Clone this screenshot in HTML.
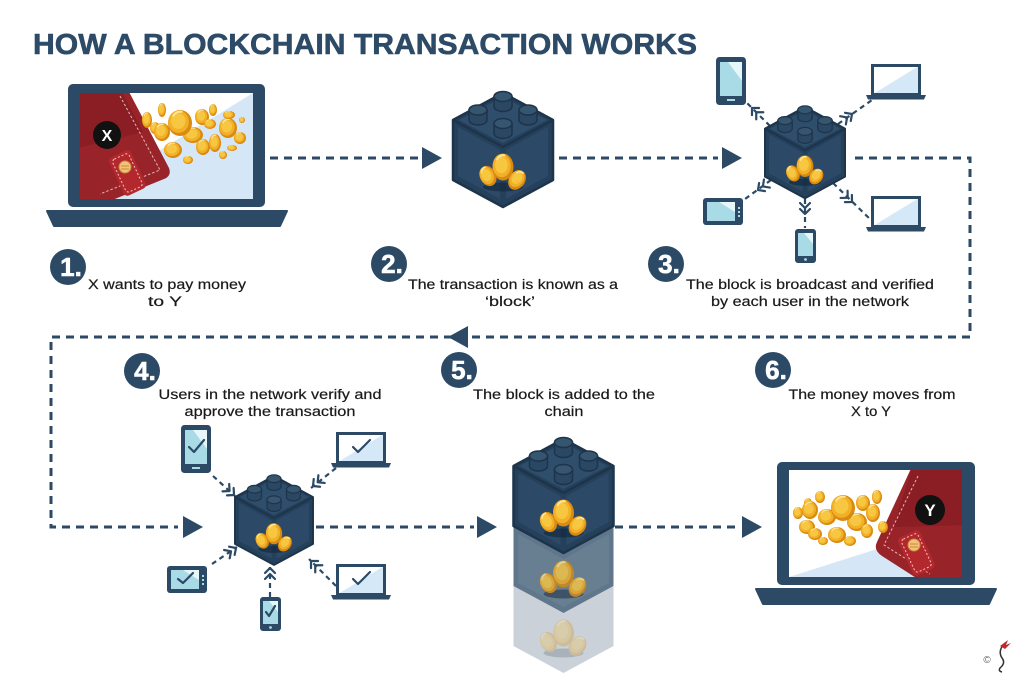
<!DOCTYPE html>
<html><head><meta charset="utf-8"><style>
html,body{margin:0;padding:0;background:#fff;}
svg{display:block;}
text{font-family:"Liberation Sans",sans-serif;}
</style></head><body>
<svg width="1024" height="683" viewBox="0 0 1024 683" xmlns="http://www.w3.org/2000/svg">
<defs>
  <g id="stud">
    <path d="M-9,-10 L-9,0 A9,5 0 0 0 9,0 L9,-10 Z" fill="#2a4763" stroke="#1d344b" stroke-width="1.5"/>
    <ellipse cx="0" cy="-10" rx="9" ry="5" fill="#36566f" stroke="#1d344b" stroke-width="1.5"/>
  </g>
  <g id="block">
    <path d="M0,0 L50,27 L50,87 L0,114 L-50,87 L-50,27 Z" fill="#24405b" stroke="#1d344b" stroke-width="2.5" stroke-linejoin="round"/>
    <path d="M-45,34 L-3,57 L-3,106 L-45,83 Z" fill="#2c4a67"/>
    <path d="M45,34 L3,57 L3,106 L45,83 Z" fill="#2c4a67"/>
    <path d="M0,4 L44,27 L0,50 L-44,27 Z" fill="#2f4e6b"/>
    <path d="M-50,27 L0,54 L50,27" fill="none" stroke="#1d344b" stroke-width="2.5"/>
    <use href="#stud" x="0" y="13.5"/>
    <use href="#stud" x="-25" y="27"/>
    <use href="#stud" x="25" y="27"/>
    <use href="#stud" x="0" y="40.5"/>
  </g>
  <g id="coin">
    <circle r="10" fill="#d98a10"/>
    <circle cx="-1.2" cy="-1" r="8.6" fill="#f2b027"/>
    <circle cx="-1.5" cy="-1.5" r="6" fill="#f8c742"/>
    <path d="M-6,-5 A7,7 0 0 1 2,-8.5" stroke="#fde59a" stroke-width="1.6" fill="none"/>
  </g>
  <g id="coins">
    <ellipse cx="0" cy="20" rx="20" ry="4.5" fill="#12243a" opacity="0.6"/>
    <use href="#coin" transform="translate(-15,9) rotate(-25) scale(0.8,1.05)"/>
    <use href="#coin" transform="translate(14,13) rotate(35) scale(0.8,1.05)"/>
    <use href="#coin" transform="translate(0,0) scale(1.05,1.35)"/>
  </g>
  <g id="chev" fill="none" stroke="#2c4a66" stroke-width="2.2" stroke-linecap="round" stroke-linejoin="round">
    <path d="M-5,-5 L0,0 L-5,5 M-11,-5 L-6,0 L-11,5"/>
  </g>
  <g id="tabP">
    <rect x="0" y="0" width="30" height="48" rx="3.5" fill="#2c4a66"/>
    <rect x="4" y="5" width="22" height="34" fill="#a8dbe6"/>
    <path d="M26,5 L26,24 L12,5 Z" fill="#e6f6f9"/>
    <rect x="11" y="42" width="8" height="2" fill="#a8dbe6"/>
  </g>
  <g id="lap">
    <rect x="6.5" y="1.5" width="47" height="29" fill="#d5e8f7"/>
    <path d="M7,30 L53,2 L7,2 Z" fill="#ffffff"/>
    <rect x="6.5" y="1.5" width="47" height="29" fill="none" stroke="#2c4a66" stroke-width="3"/>
    <path d="M0,31 L60,31 L58,35.5 L2,35.5 Z" fill="#2c4a66"/>
  </g>
  <g id="tabL">
    <rect x="0" y="0" width="40" height="27" rx="3" fill="#2c4a66"/>
    <rect x="4" y="4" width="28" height="19" fill="#a8dbe6"/>
    <path d="M32,4 L32,14 L16,4 Z" fill="#e6f6f9"/>
    <rect x="35" y="9" width="2" height="2" fill="#a8dbe6"/>
    <rect x="35" y="13" width="2" height="2" fill="#a8dbe6"/>
    <rect x="35" y="17" width="2" height="2" fill="#a8dbe6"/>
  </g>
  <g id="phone">
    <rect x="0" y="0" width="21" height="34" rx="3" fill="#2c4a66"/>
    <rect x="3" y="4" width="15" height="23" fill="#a8dbe6"/>
    <path d="M18,4 L18,15 L9,4 Z" fill="#e6f6f9"/>
    <circle cx="10.5" cy="30.5" r="1.4" fill="#a8dbe6"/>
  </g>
  <clipPath id="scr1"><rect x="80" y="93" width="173" height="106"/></clipPath>
  <clipPath id="scr6"><rect x="789" y="470" width="173" height="107"/></clipPath>
</defs>

<!-- Title -->
<text x="33" y="54" font-size="29" font-weight="bold" fill="#2d4b67" stroke="#2d4b67" stroke-width="0.6" textLength="664" lengthAdjust="spacingAndGlyphs">HOW A BLOCKCHAIN TRANSACTION WORKS</text>

<!-- ===== Main dashed connectors ===== -->
<g fill="none" stroke="#2c4a66" stroke-width="3" stroke-dasharray="8 6">
  <path d="M270,158 L418,158"/>
  <path d="M559,158 L718,158"/>
  <path d="M855,158 L970,158 L970,337 L51,337 L51,527 L178,527"/>
  <path d="M316,527 L474,527"/>
  <path d="M615,527 L738,527"/>
</g>
<g fill="#2c4a66">
  <path d="M422,147 L442,158 L422,169 Z"/>
  <path d="M722,147 L742,158 L722,169 Z"/>
  <path d="M448,337 L468,326 L468,348 Z"/>
  <path d="M183,516 L203,527 L183,538 Z"/>
  <path d="M477,516 L497,527 L477,538 Z"/>
  <path d="M742,516 L762,527 L742,538 Z"/>
</g>

<!-- ===== Laptop 1 ===== -->
<rect x="68" y="84" width="197" height="123" rx="5" fill="#2c4a66"/>
<rect x="80" y="93" width="173" height="106" fill="#ffffff"/>
<path d="M80,199 L253,93 L253,199 Z" fill="#d5e7f6"/>
<g clip-path="url(#scr1)">
  <path d="M70,85 L127,88 L169,168 Q172,176 164,179 L100,205 L70,205 Z" fill="#98242a"/>
  <path d="M70,88 L122,92 L143,132 L70,150 Z" fill="#8a1e24"/>
  <path d="M120,96 L160,170 L100,194" fill="none" stroke="#e9b3b3" stroke-width="1" stroke-dasharray="2.5 2"/>
  <g transform="translate(127,172) rotate(-25)">
    <rect x="-12" y="-20" width="24" height="42" rx="4" fill="#b3282d"/>
    <rect x="-9" y="-17" width="18" height="36" rx="3" fill="none" stroke="#f0c3c3" stroke-width="1" stroke-dasharray="2 2"/>
  </g>
  <circle cx="125" cy="167" r="6" fill="#f2c27b" stroke="#c98b3b" stroke-width="1"/>
  <path d="M121,166 L129,166 M121,169 L129,169" stroke="#c98b3b" stroke-width="1"/>
  <circle cx="107" cy="135" r="14" fill="#111"/>
  <text x="107" y="141" font-size="16" font-weight="bold" fill="#fff" text-anchor="middle">X</text>
  <use href="#coin" transform="translate(147,120) scale(0.5,0.8)"/>
  <use href="#coin" transform="translate(155,128) scale(0.5,0.6)"/>
  <use href="#coin" transform="translate(162,110) scale(0.4,0.7)"/>
  <use href="#coin" transform="translate(162,132) scale(0.8,0.9)"/>
  <use href="#coin" transform="translate(173,150) scale(0.9,0.8)"/>
  <use href="#coin" transform="translate(188,160) scale(0.5,0.4)"/>
  <use href="#coin" transform="translate(202,117) scale(0.7,0.8)"/>
  <use href="#coin" transform="translate(213,110) scale(0.4,0.6)"/>
  <use href="#coin" transform="translate(210,124) scale(0.6,0.5)"/>
  <use href="#coin" transform="translate(193,135) scale(1.0,0.8)"/>
  <use href="#coin" transform="translate(203,147) scale(0.7,0.8)"/>
  <use href="#coin" transform="translate(215,143) scale(0.6,0.9)"/>
  <use href="#coin" transform="translate(228,128) scale(0.9,1.0)"/>
  <use href="#coin" transform="translate(229,115) scale(0.6,0.4)"/>
  <use href="#coin" transform="translate(240,138) scale(0.6,0.6)"/>
  <use href="#coin" transform="translate(232,148) scale(0.5,0.3)"/>
  <use href="#coin" transform="translate(242,120) scale(0.3,0.3)"/>
  <use href="#coin" transform="translate(223,155) scale(0.4,0.4)"/>
  <use href="#coin" transform="translate(180,123) scale(1.2,1.3)"/>
</g>
<path d="M47,211 L287,211 L280,226 L54,226 Z" fill="#2c4a66" stroke="#2c4a66" stroke-width="2" stroke-linejoin="round"/>

<!-- ===== Block 2 ===== -->
<use href="#block" transform="translate(503,93)"/>
<use href="#coins" transform="translate(503,167)"/>

<!-- ===== Block 3 + devices ===== -->
<g fill="none" stroke="#2c4a66" stroke-width="2.2" stroke-dasharray="5 4">
  <path d="M770,126 L746,102"/>
  <path d="M838,124 L872,100"/>
  <path d="M771,180 L745,199"/>
  <path d="M805,199 L805,228"/>
  <path d="M833,183 L872,221"/>
</g>
<g transform="translate(805,107) scale(0.8)">
  <use href="#block"/>
  <use href="#coins" y="74"/>
</g>
<use href="#chev" transform="translate(752,108) rotate(-135)"/>
<use href="#chev" transform="translate(852,114) rotate(-35)"/>
<use href="#chev" transform="translate(758,190) rotate(144)"/>
<use href="#chev" transform="translate(805,214) rotate(90)"/>
<use href="#chev" transform="translate(852,202) rotate(44)"/>
<use href="#tabP" x="716" y="57"/>
<use href="#lap" x="866" y="64"/>
<use href="#tabL" x="703" y="198"/>
<use href="#phone" x="795" y="229"/>
<use href="#lap" x="866" y="196"/>

<!-- ===== Step number circles ===== -->
<g fill="#2c4a66">
  <circle cx="68" cy="267" r="18"/>
  <circle cx="389" cy="264" r="18"/>
  <circle cx="666" cy="264" r="18"/>
  <circle cx="142" cy="371" r="18"/>
  <circle cx="459" cy="370" r="18"/>
  <circle cx="773" cy="370" r="18"/>
</g>
<g font-size="26" font-weight="bold" fill="#fff" stroke="#fff" stroke-width="0.6" text-anchor="middle">
  <text x="71" y="276">1.</text>
  <text x="392" y="273">2.</text>
  <text x="669" y="273">3.</text>
  <text x="145" y="380">4.</text>
  <text x="462" y="379">5.</text>
  <text x="776" y="379">6.</text>
</g>
<g font-size="13.5" fill="#1a1a1a" stroke="#1a1a1a" stroke-width="0.2" text-anchor="middle">
  <text x="167" y="289" textLength="158" lengthAdjust="spacingAndGlyphs">X wants to pay money</text>
  <text x="165" y="306" textLength="34" lengthAdjust="spacingAndGlyphs">to Y</text>
  <text x="513" y="289" textLength="210" lengthAdjust="spacingAndGlyphs">The transaction is known as a</text>
  <text x="510" y="306" textLength="50" lengthAdjust="spacingAndGlyphs">‘block’</text>
  <text x="810" y="289" textLength="248" lengthAdjust="spacingAndGlyphs">The block is broadcast and verified</text>
  <text x="810" y="306" textLength="198" lengthAdjust="spacingAndGlyphs">by each user in the network</text>
  <text x="270" y="399" textLength="223" lengthAdjust="spacingAndGlyphs">Users in the network verify and</text>
  <text x="270" y="416" textLength="171" lengthAdjust="spacingAndGlyphs">approve the transaction</text>
  <text x="564" y="399" textLength="182" lengthAdjust="spacingAndGlyphs">The block is added to the</text>
  <text x="564" y="416" textLength="39" lengthAdjust="spacingAndGlyphs">chain</text>
  <text x="872" y="399" textLength="167" lengthAdjust="spacingAndGlyphs">The money moves from</text>
  <text x="871" y="416" textLength="40" lengthAdjust="spacingAndGlyphs">X to Y</text>
</g>

<!-- ===== Block 4 + devices ===== -->
<g fill="none" stroke="#2c4a66" stroke-width="2.2" stroke-dasharray="5 4">
  <path d="M213,476 L236,497"/>
  <path d="M336,468 L311,488"/>
  <path d="M212,564 L237,547"/>
  <path d="M270,597 L270,567"/>
  <path d="M336,586 L309,559"/>
</g>
<g transform="translate(274,476) scale(0.78)">
  <use href="#block"/>
  <use href="#coins" y="74"/>
</g>
<use href="#chev" transform="translate(234,495) rotate(42)"/>
<use href="#chev" transform="translate(313,486) rotate(141)"/>
<use href="#chev" transform="translate(236,548) rotate(-34)"/>
<use href="#chev" transform="translate(270,568) rotate(-90)"/>
<use href="#chev" transform="translate(311,561) rotate(-135)"/>
<use href="#tabP" x="181" y="425"/>
<use href="#lap" x="331" y="432"/>
<use href="#tabL" x="167" y="566"/>
<use href="#phone" x="260" y="597"/>
<use href="#lap" x="331" y="564"/>
<g fill="none" stroke="#2c4a66" stroke-width="2.2" stroke-linecap="round" stroke-linejoin="round">
  <path d="M189,447 L194,452 L204,440"/>
  <path d="M353,447 L358,452 L370,440"/>
  <path d="M178,579 L183,583 L193,573"/>
  <path d="M266,612 L269,616 L275,606"/>
  <path d="M353,579 L358,584 L370,572"/>
</g>

<!-- ===== Step 5 stack ===== -->
<path d="M513.5,586 L563.5,613 L613.5,586 L613.5,646 L563.5,673 L513.5,646 Z" fill="#2a4864" opacity="0.25"/>
<use href="#coins" transform="translate(563.5,633)" opacity="0.3"/>
<path d="M513.5,526 L563.5,553 L613.5,526 L613.5,586 L563.5,613 L513.5,586 Z" fill="#2a4864" opacity="0.75"/>
<path d="M518,534 L563.5,559 L609,534 L609,583 L563.5,607 L518,583 Z" fill="#ffffff" opacity="0.06"/>
<use href="#coins" transform="translate(563.5,574)" opacity="0.8"/>
<use href="#block" transform="translate(563.5,439)"/>
<use href="#coins" transform="translate(563.5,513)"/>

<!-- ===== Laptop 6 ===== -->
<rect x="777" y="462" width="198" height="123" rx="5" fill="#2c4a66"/>
<rect x="789" y="470" width="173" height="107" fill="#ffffff"/>
<path d="M789,577 L962,522 L962,577 Z" fill="#d5e7f6"/>
<g clip-path="url(#scr6)">
  <use href="#coin" transform="translate(798,513) scale(0.5,0.6)"/>
  <use href="#coin" transform="translate(808,503) scale(0.4,0.5)"/>
  <use href="#coin" transform="translate(810,510) scale(0.8,0.9)"/>
  <use href="#coin" transform="translate(820,497) scale(0.5,0.6)"/>
  <use href="#coin" transform="translate(807,527) scale(0.8,0.7)"/>
  <use href="#coin" transform="translate(815,534) scale(0.7,0.6)"/>
  <use href="#coin" transform="translate(823,541) scale(0.5,0.4)"/>
  <use href="#coin" transform="translate(827,517) scale(0.9,0.8)"/>
  <use href="#coin" transform="translate(837,535) scale(0.9,0.8)"/>
  <use href="#coin" transform="translate(850,541) scale(0.6,0.5)"/>
  <use href="#coin" transform="translate(863,503) scale(0.7,0.8)"/>
  <use href="#coin" transform="translate(857,522) scale(1.0,0.9)"/>
  <use href="#coin" transform="translate(867,531) scale(0.6,0.7)"/>
  <use href="#coin" transform="translate(843,508) scale(1.2,1.3)"/>
  <path d="M914,462 L975,462 L975,590 L935,590 L882,556 Q873,550 877,542 Z" fill="#98242a"/>
  <path d="M914,462 L975,462 L975,525 L893,527 Z" fill="#8a1e24"/>
  <use href="#coin" transform="translate(877,497) scale(0.5,0.7)"/>
  <use href="#coin" transform="translate(873,513) scale(0.7,0.9)"/>
  <use href="#coin" transform="translate(883,527) scale(0.5,0.6)"/>
  <path d="M918,476 L884,545 L930,574" fill="none" stroke="#e9b3b3" stroke-width="1" stroke-dasharray="2.5 2"/>
  <g transform="translate(916,552) rotate(-25)">
    <rect x="-12" y="-20" width="24" height="42" rx="4" fill="#b3282d"/>
    <rect x="-9" y="-17" width="18" height="36" rx="3" fill="none" stroke="#f0c3c3" stroke-width="1" stroke-dasharray="2 2"/>
  </g>
  <circle cx="914" cy="545" r="6" fill="#f2c27b" stroke="#c98b3b" stroke-width="1"/>
  <path d="M910,544 L918,544 M910,547 L918,547" stroke="#c98b3b" stroke-width="1"/>
  <circle cx="930" cy="510" r="15" fill="#111"/>
  <text x="930" y="516" font-size="17" font-weight="bold" fill="#fff" text-anchor="middle">Y</text>
</g>
<path d="M756,589 L996,589 L989,604 L763,604 Z" fill="#2c4a66" stroke="#2c4a66" stroke-width="2" stroke-linejoin="round"/>

<!-- logo -->
<text x="987" y="663" font-size="10" fill="#666" text-anchor="middle">©</text>
<path d="M1003,645 Q998,652 1002,658 Q1006,663 1000,668 Q998,671 1002,672" fill="none" stroke="#333" stroke-width="1.5"/>
<path d="M1000,646 L1008,640 L1006,645 L1011,643 L1005,649 Z" fill="#c0282d"/>
</svg>
</body></html>
